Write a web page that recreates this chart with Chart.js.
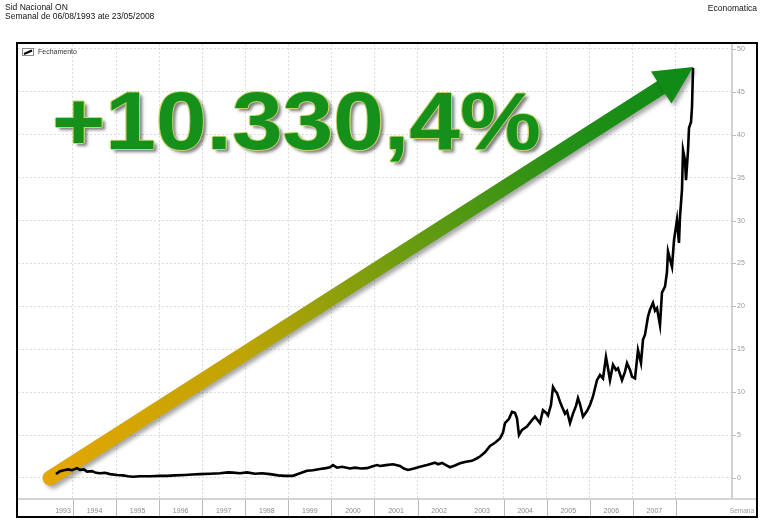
<!DOCTYPE html>
<html><head><meta charset="utf-8">
<script src="https://cdn.jsdelivr.net/npm/chart.js@4.4.0/dist/chart.umd.min.js"></script>
<style>
html,body{margin:0;padding:0;background:#fff;}
#wrap{position:relative;width:773px;height:525px;overflow:hidden;font-family:"Liberation Sans",Arial,sans-serif;background:#fff;}
canvas{position:absolute;left:0;top:0;}
.hdr{position:absolute;font-size:8.5px;color:#111;white-space:nowrap;line-height:10px;}
#big{position:absolute;left:52px;top:81px;font:bold 81px/81px "Liberation Sans",Arial,sans-serif;color:#15901a;white-space:nowrap;transform-origin:0 0;transform:scaleX(1.125);
text-shadow:1px 0 0 #c9d46e,-1px 0 0 #c9d46e,0 1px 0 #c9d46e,0 -1px 0 #c9d46e,3px 3px 3px rgba(0,0,0,0.5);}
</style></head>
<body>
<div id="wrap">
<canvas id="c" width="773" height="525"></canvas>
<div class="hdr" style="left:5px;top:2px;">Sid Nacional ON</div>
<div class="hdr" style="left:5px;top:11px;">Semanal de 06/08/1993 ate 23/05/2008</div>
<div class="hdr" style="right:16px;top:3px;">Economatica</div>
<div id="big">+10.330,4%</div>
</div>
<script>
// ---- data (decimal years, weekly closing price) ----
const weeks = [1993.605,1993.698,1993.791,1993.884,1993.977,1994.093,1994.163,1994.255,1994.325,1994.441,1994.534,1994.627,1994.743,1994.859,1995.022,1995.161,1995.277,1995.393,1995.556,1995.788,1996.020,1996.183,1996.368,1996.600,1996.763,1996.949,1997.181,1997.413,1997.599,1997.715,1997.877,1998.040,1998.226,1998.388,1998.574,1998.760,1998.922,1999.108,1999.271,1999.433,1999.572,1999.735,1999.874,1999.967,2000.037,2000.130,2000.246,2000.431,2000.548,2000.687,2000.826,2000.942,2001.058,2001.128,2001.267,2001.430,2001.592,2001.685,2001.778,2001.917,2002.057,2002.219,2002.405,2002.475,2002.568,2002.660,2002.753,2002.869,2002.985,2003.125,2003.264,2003.380,2003.450,2003.566,2003.682,2003.798,2003.914,2003.984,2004.030,2004.123,2004.193,2004.262,2004.309,2004.355,2004.425,2004.541,2004.634,2004.727,2004.796,2004.843,2004.912,2004.982,2005.029,2005.098,2005.145,2005.191,2005.238,2005.307,2005.354,2005.423,2005.470,2005.540,2005.609,2005.679,2005.725,2005.772,2005.841,2005.934,2006.004,2006.073,2006.166,2006.236,2006.306,2006.375,2006.422,2006.468,2006.538,2006.608,2006.654,2006.747,2006.817,2006.863,2006.933,2006.979,2007.049,2007.118,2007.188,2007.234,2007.281,2007.350,2007.397,2007.466,2007.513,2007.559,2007.629,2007.675,2007.745,2007.791,2007.815,2007.861,2007.908,2007.954,2008.024,2008.070,2008.094,2008.140,2008.164,2008.210,2008.233,2008.280,2008.303,2008.350,2008.373,2008.396];
const closes = [0.46,0.8,0.9,1.0,0.9,1.15,0.95,1.0,0.75,0.8,0.6,0.55,0.6,0.45,0.35,0.3,0.2,0.15,0.2,0.2,0.25,0.25,0.3,0.35,0.4,0.45,0.5,0.55,0.65,0.62,0.55,0.65,0.5,0.55,0.45,0.3,0.25,0.25,0.55,0.85,0.9,1.05,1.15,1.25,1.5,1.2,1.3,1.1,1.2,1.1,1.15,1.35,1.5,1.4,1.5,1.6,1.4,1.1,0.93,1.1,1.32,1.5,1.78,1.6,1.75,1.5,1.25,1.45,1.71,1.9,2.0,2.3,2.5,3.0,3.73,4.1,4.6,5.3,6.4,6.9,7.7,7.6,6.96,5.0,5.6,6.0,6.6,7.15,6.7,6.4,7.9,7.6,7.3,8.5,10.6,10.2,9.9,8.9,8.3,7.5,7.8,6.4,7.5,8.4,9.3,8.6,7.15,7.8,8.5,9.5,11.4,12.0,11.6,14.1,12.8,11.4,13.2,12.6,12.8,11.4,12.4,13.4,12.6,11.8,11.6,14.9,13.4,16.1,16.7,18.8,19.6,20.4,19.5,19.8,17.8,21.6,22.3,24.0,26.4,25.5,24.6,27.7,30.1,27.4,30.5,33.6,38.2,37.0,34.7,38.2,40.8,41.5,43.3,47.8];
const seriesName = 'Fechamento';
const xTickValues = [1993.269,1994,1995,1996,1997,1998,1999,2000,2001,2002,2003,2004,2005,2006,2007,2008];
const xTickLabels = ['1993','1994','1995','1996','1997','1998','1999','2000','2001','2002','2003','2004','2005','2006','2007',''];
const yTickValues = [0,5,10,15,20,25,30,35,40,45,50];
const xAxisName = 'Semana';
// arrow annotation, in data coordinates
const arrowFrom = {x: 1993.466, y: 0};
const arrowTo = {x: 2008.40, y: 47.9};

const FONT = '"Liberation Sans", Arial, sans-serif';
const GRID = '#dcdcdc';

const decor = {
  id: 'decor',
  beforeDraw(chart) {
    const c = chart.ctx;
    c.save(); c.fillStyle = '#fff'; c.fillRect(0, 0, chart.width, chart.height); c.restore();
  },
  beforeDatasetsDraw(chart) {
    const c = chart.ctx, xs = chart.scales.x, ys = chart.scales.y;
    const T = {x: xs.getPixelForValue(arrowFrom.x), y: ys.getPixelForValue(arrowFrom.y)};
    const P = {x: xs.getPixelForValue(arrowTo.x), y: ys.getPixelForValue(arrowTo.y)};
    const L = Math.hypot(P.x - T.x, P.y - T.y);
    const u = {x: (P.x - T.x) / L, y: (P.y - T.y) / L};
    const n = {x: -u.y, y: u.x};
    const headLen = 38, headHalf = 19, shaftHalf = 7.5;
    const g = c.createLinearGradient(T.x, T.y, P.x, P.y);
    g.addColorStop(0, '#e4a600');
    g.addColorStop(0.3, '#bfa404');
    g.addColorStop(0.55, '#6c9c10');
    g.addColorStop(0.8, '#249016');
    g.addColorStop(1, '#0c8a16');
    c.save();
    c.shadowColor = 'rgba(0,0,0,0.35)';
    c.shadowBlur = 4; c.shadowOffsetX = 3; c.shadowOffsetY = 3;
    c.fillStyle = g; c.strokeStyle = g;
    const S = {x: P.x - u.x * (headLen - 4), y: P.y - u.y * (headLen - 4)};
    c.lineCap = 'round';
    c.lineWidth = shaftHalf * 2;
    c.beginPath(); c.moveTo(T.x, T.y); c.lineTo(S.x, S.y); c.stroke();
    const B = {x: P.x - u.x * headLen, y: P.y - u.y * headLen};
    c.beginPath();
    c.moveTo(P.x, P.y);
    c.lineTo(B.x + n.x * headHalf, B.y + n.y * headHalf);
    c.lineTo(B.x - n.x * headHalf, B.y - n.y * headHalf);
    c.closePath(); c.fill();
    c.restore();
  },
  afterDraw(chart) {
    const c = chart.ctx, xs = chart.scales.x, ys = chart.scales.y, a = chart.chartArea;
    c.save();
    // x axis base line
    c.strokeStyle = '#d4d4d4'; c.lineWidth = 2;
    c.beginPath(); c.moveTo(17, a.bottom); c.lineTo(757, a.bottom); c.stroke();
    // year separators
    c.strokeStyle = '#b8b8b8'; c.lineWidth = 1;
    xTickValues.forEach(v => {
      if (v < 1994 || v === 2003) return;
      const px = Math.round(xs.getPixelForValue(v)) + 0.5;
      c.beginPath(); c.moveTo(px, a.bottom + 1); c.lineTo(px, a.bottom + 17); c.stroke();
    });
    // y tick marks
    c.strokeStyle = '#bdbdbd';
    yTickValues.forEach(v => {
      const py = Math.round(ys.getPixelForValue(v)) + 0.5;
      c.beginPath(); c.moveTo(a.right, py); c.lineTo(a.right + 4, py); c.stroke();
    });
    // axis name
    c.fillStyle = '#9a9a9a'; c.font = '6.5px ' + FONT; c.textAlign = 'right'; c.textBaseline = 'middle';
    c.fillText(xAxisName, 754, a.bottom + 12);
    // legend
    c.strokeStyle = '#8a8a8a'; c.lineWidth = 1;
    c.strokeRect(22.5, 48.5, 11, 7);
    c.strokeStyle = '#000'; c.lineWidth = 2;
    c.beginPath(); c.moveTo(24, 54); c.lineTo(32, 50.5); c.stroke();
    c.fillStyle = '#333'; c.font = '7px ' + FONT; c.textAlign = 'left'; c.textBaseline = 'middle';
    c.fillText(seriesName, 38, 52.5);
    // outer frame
    c.strokeStyle = '#000'; c.lineWidth = 2;
    c.strokeRect(17, 43, 740, 474);
    c.restore();
  }
};

new Chart(document.getElementById('c'), {
  type: 'line',
  data: {
    datasets: [{
      label: seriesName,
      data: weeks.map((w, i) => ({x: w, y: closes[i]})),
      borderColor: '#000',
      borderWidth: 2.6,
      pointRadius: 0,
      tension: 0,
      fill: false
    }]
  },
  options: {
    responsive: false,
    animation: false,
    devicePixelRatio: 1,
    layout: {padding: {left: 18, top: 44, right: 16, bottom: 8}},
    plugins: {legend: {display: false}, tooltip: {enabled: false}},
    scales: {
      x: {
        type: 'linear',
        position: 'bottom',
        min: 1992.723,
        max: 2009.301,
        afterBuildTicks: s => { s.ticks = xTickValues.map(v => ({value: v})); },
        afterFit: s => { s.height = 18; },
        border: {display: false, dash: [2, 2]},
        grid: {
          drawTicks: false,
          color: ctx => (ctx.tick && (ctx.tick.value < 1994 || ctx.tick.value === 2003)) ? 'rgba(0,0,0,0)' : GRID,
          lineWidth: 1
        },
        ticks: {
          autoSkip: false, maxRotation: 0, minRotation: 0,
          labelOffset: 21.5,
          padding: 8,
          color: '#8a8a8a',
          font: {family: FONT, size: 7},
          callback: (v, i) => xTickLabels[i]
        }
      },
      y: {
        type: 'linear',
        position: 'right',
        min: -2.45,
        max: 50.58,
        afterBuildTicks: s => { s.ticks = yTickValues.map(v => ({value: v})); },
        afterFit: s => { s.width = 25; },
        border: {display: true, color: '#d2d2d2', width: 2, dash: [2, 2]},
        grid: {drawTicks: false, color: GRID, lineWidth: 1},
        ticks: {
          padding: 5,
          color: '#9a9a9a',
          font: {family: FONT, size: 7},
          callback: v => String(v)
        }
      }
    }
  },
  plugins: [decor]
});
</script>
</body></html>
